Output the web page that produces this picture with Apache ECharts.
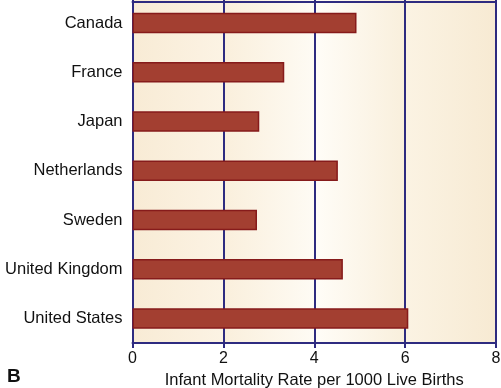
<!DOCTYPE html>
<html>
<head>
<meta charset="utf-8">
<script src="https://cdn.jsdelivr.net/npm/echarts@6/dist/echarts.min.js"></script>
<style>
html,body{margin:0;padding:0;background:#fff;}
#chart{width:501px;height:388px;}
</style>
</head>
<body>
<div id="chart"></div>
<script>
var countries = ['Canada','France','Japan','Netherlands','Sweden','United Kingdom','United States'];
var rates = [4.93, 3.34, 2.79, 4.52, 2.74, 4.63, 6.07];
var xTicks = [0, 2, 4, 6, 8];
var axisName = 'Infant Mortality Rate per 1000 Live Births';
var panelLabel = 'B';

var navy = '#2e2b80';
var font = 'Liberation Sans, Arial, sans-serif';
function grad(a, b) {
  return {type:'linear', x:0, y:0, x2:1, y2:0, colorStops:[{offset:0,color:a},{offset:1,color:b}]};
}
var chart = echarts.init(document.getElementById('chart'), null, {renderer:'canvas'});
chart.setOption({
  animation: false,
  backgroundColor: '#ffffff',
  title: {
    text: panelLabel, left: 2, top: 362,
    textStyle: {fontFamily: font, fontSize:19, fontWeight:'bold', color:'#111'}
  },
  grid: {left: 132.5, right: 5, top: -1.5, bottom: 45, containLabel: false, outerBoundsMode: 'none'},
  xAxis: [{
    type: 'value', min: xTicks[0], max: xTicks[xTicks.length-1], interval: 2,
    name: axisName, nameLocation: 'middle', nameGap: 23,
    nameTextStyle: {fontFamily: font, fontSize:16.5, color:'#111'},
    axisLine: {show: true, lineStyle: {color: navy, width: 2}},
    axisTick: {show: true, length: 5, lineStyle: {color: navy, width: 2}},
    axisLabel: {margin: 8, fontFamily: font, fontSize:16, color:'#111'},
    splitLine: {show: true, lineStyle: {color: navy, width: 2}},
    splitArea: {show: true, areaStyle: {color: [
      grad('#f8ebd5', '#fcf3e4'),
      grad('#faefdc', '#fefbf4'),
      grad('#fffdf8', '#f9efdc'),
      grad('#fbf3e3', '#f7ead3')
    ]}}
  }, {
    type: 'value', min: xTicks[0], max: xTicks[xTicks.length-1], position: 'top', offset: -3,
    axisLine: {show: true, lineStyle: {color: navy, width: 2}},
    axisTick: {show: false}, axisLabel: {show: false}, splitLine: {show: false}
  }],
  yAxis: {
    type: 'category', data: countries, inverse: true,
    axisLine: {show: true, lineStyle: {color: navy, width: 2}},
    axisTick: {show: false},
    axisLabel: {margin: 10, fontFamily: font, fontSize:16.5, color:'#111'}
  },
  series: [{
    type: 'bar', data: rates, barWidth: 20.5, xAxisIndex: 0,
    itemStyle: {color: '#a33f31', borderColor: '#861b1b', borderWidth: 1.5},
    z: 3
  }]
});
</script>
</body>
</html>
